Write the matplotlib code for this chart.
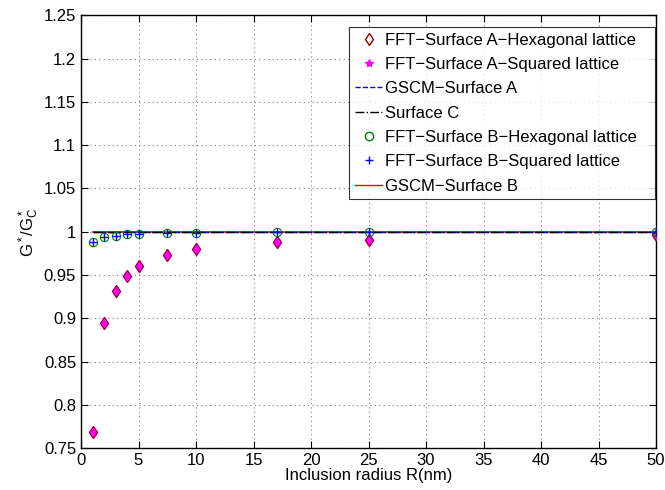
import numpy as np
import matplotlib
matplotlib.use('Agg')
import matplotlib.pyplot as plt
from matplotlib.lines import Line2D

plt.rcParams['font.family'] = ['Liberation Sans', 'DejaVu Sans']
plt.rcParams['mathtext.fontset'] = 'custom'
plt.rcParams['mathtext.rm'] = 'Liberation Sans'
plt.rcParams['mathtext.it'] = 'Liberation Sans'

# inclusion radius (nm)
radius = [1, 2, 3, 4, 5, 7.5, 10, 17, 25, 50]
# FFT results, surface A (hexagonal / squared lattice)
surfA_hex = [0.768, 0.894, 0.931, 0.949, 0.960, 0.973, 0.980, 0.988, 0.991, 0.996]
surfA_sq = [0.768, 0.894, 0.931, 0.949, 0.960, 0.973, 0.980, 0.988, 0.991, 0.996]
# FFT results, surface B
surfB_hex = [0.988, 0.994, 0.995, 0.997, 0.997, 0.998, 0.999, 1.0, 1.0, 1.0]
surfB_sq = [0.988, 0.994, 0.995, 0.997, 0.997, 0.998, 0.999, 1.0, 1.0, 1.0]
# GSCM / surface C reference lines
line_x = [1, 50]
gscmA = [1.0, 1.0]
surfC = [1.0, 1.0]
gscmB = [1.0, 1.0]

fig = plt.figure(figsize=(6.65, 4.9), dpi=100)
ax = fig.add_axes([81/665, 1 - 448/490, 575/665, 432.5/490])

darkred = (0.6, 0, 0)
ax.plot(radius, surfA_sq, linestyle='none', marker='d', ms=6, mfc='magenta', mec='magenta', zorder=3)
ax.plot(radius, surfA_hex, linestyle='none', marker='d', ms=6, mfc='none', mec=darkred, mew=0.7, zorder=4)
ax.plot(line_x, gscmA, '--', color='blue', lw=1, zorder=5)
ax.plot(line_x, surfC, '-.', color='black', lw=1, zorder=5)
ax.plot(radius, surfB_hex, linestyle='none', marker='o', ms=6, mfc='none', mec='green', mew=0.8, zorder=6)
ax.plot(radius, surfB_sq, linestyle='none', marker='+', ms=6, color='blue', mew=1, zorder=6)
ax.plot(line_x, gscmB, '-', color='red', lw=1.2, zorder=4)

handles = [
    Line2D([], [], linestyle='none', marker='d', ms=6, mfc='none', mec=darkred),
    Line2D([], [], linestyle='none', marker='*', ms=6, color='magenta'),
    Line2D([], [], linestyle='--', color='blue', lw=1),
    Line2D([], [], linestyle='-.', color='black', lw=1),
    Line2D([], [], linestyle='none', marker='o', ms=6, mfc='none', mec='green'),
    Line2D([], [], linestyle='none', marker='+', ms=6, color='blue'),
    Line2D([], [], linestyle='-', color='red', lw=1),
]
labels = ['FFT\u2212Surface A\u2212Hexagonal lattice   ',
          'FFT\u2212Surface A\u2212Squared lattice',
          'GSCM\u2212Surface A',
          'Surface C',
          'FFT\u2212Surface B\u2212Hexagonal lattice',
          'FFT\u2212Surface B\u2212Squared lattice',
          'GSCM\u2212Surface B']
leg = ax.legend(handles, labels, loc='upper right', bbox_to_anchor=(0.999, 0.974),
                fontsize=12, frameon=True, fancybox=False, edgecolor='black',
                handlelength=1.6, handletextpad=0.18, borderpad=0.35, labelspacing=0.56,
                borderaxespad=0)
leg.get_frame().set_linewidth(0.8)

ax.set_xlim(0, 50)
ax.set_ylim(0.75, 1.25)
ax.set_xticks(np.arange(0, 51, 5))
yt = np.arange(0.75, 1.2501, 0.05)
ax.set_yticks(yt)
ax.set_yticklabels(['%g' % round(v, 2) for v in yt])
ax.tick_params(direction='in', top=True, right=True, labelsize=12, length=5)
ax.grid(True, linestyle=(0, (1, 3)), color='gray', lw=0.8)
for s in ax.spines.values():
    s.set_linewidth(1)

ax.set_xlabel('Inclusion radius R(nm)', fontsize=12, labelpad=0)
ax.set_ylabel('$\\mathregular{G^*/G_C^*}$', fontsize=12, labelpad=2)

fig.savefig('out.png', dpi=100)
